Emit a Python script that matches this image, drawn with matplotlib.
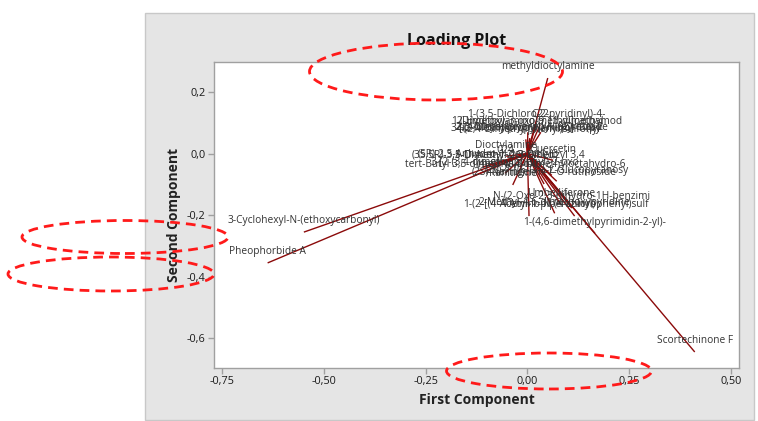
import matplotlib
matplotlib.use('Agg')
import matplotlib.pyplot as plt
from matplotlib.patches import Rectangle, Ellipse

# ---- data (loadings on first / second component) ----
names = [
    "methyldioctylamine",
    "Scortechinone F",
    "Pheophorbide A",
    "3-Cyclohexyl-N-(ethoxycarbonyl)",
    "1-(3,5-Dichloro-2-pyridinyl)-4-",
    "C22",
    "12-Hydroxy-3-oxo-9,11-dimethyl",
    "(Dimethylamino)methyl]carbamod",
    "2-(4-Methylphenyl)-N-(pyridin-2",
    "4-(2,4-Dimethylphenyl)sulfonyl",
    "2,3-Dihydroxypropyl (9Z)-octade",
    "3-[(2-Methylpropyl)amino]-1-(py",
    "Dioctylamine",
    "C24",
    "Quercetin",
    "(5R)-2,5-Anhydro-1-deoxy-1-(3",
    "(3S,5R)-3,5-Dimethyl-2,3-dihyd",
    "1-O-Acetyl-2-O-Dibenzyl 3,4",
    "tert-Butyl 3,5-dimethyl-4-oxo-",
    "3-[2-(3,4-dimethylphenyl)-2-oxo",
    "(4aS)-4a,8-Dimethyloctahydro-6",
    "(2S)-7-[(6-O-a-L-Glucopyranosy",
    "Ranitidine",
    "(2S)-Naringenin-7-O-rutinoside",
    "Umbelliferone",
    "N-(2-Oxo-2,3-dihydro-1H-benzimi",
    "2-Methyl-4,6-dimethoxypyridine",
    "1-(2-[(4-Acetyl-1-piperazinyl)",
    "4-Amino-N-(4-chlorophenyl)sulf",
    "1-(4,6-dimethylpyrimidin-2-yl)-",
]
pc1 = [0.050, 0.411, -0.638, -0.549, 0.021, 0.031, 0.001, 0.033,
       0.006, 0.001, 0.011, -0.004, -0.052, -0.055, 0.063, -0.095,
       -0.110, -0.018, -0.129, -0.055, 0.060, 0.072, -0.036, 0.041,
       0.082, 0.109, 0.067, 0.004, 0.116, 0.166]
pc2 = [0.245, -0.644, -0.355, -0.255, 0.092, 0.092, 0.069, 0.069,
       0.050, 0.042, 0.050, 0.046, -0.009, -0.025, -0.022, -0.038,
       -0.044, -0.044, -0.071, -0.064, -0.071, -0.090, -0.102, -0.099,
       -0.165, -0.177, -0.194, -0.203, -0.203, -0.259]

xticks = [-0.75, -0.50, -0.25, 0.0, 0.25, 0.50]
xticklabels = ['-0,75', '-0,50', '-0,25', '0,00', '0,25', '0,50']
yticks = [-0.6, -0.4, -0.2, 0.0, 0.2]
yticklabels = ['-0,6', '-0,4', '-0,2', '0,0', '0,2']

W, H = 758, 421
plt.rcParams['font.family'] = ['Open Sans', 'DejaVu Sans']

fig = plt.figure(figsize=(W / 100, H / 100), dpi=100)
fig.patch.set_facecolor('white')

# grey Minitab panel
fig.patches.append(Rectangle((145 / W, 1 - 420 / H), (754 - 145) / W, (420 - 13) / H,
                             transform=fig.transFigure, facecolor='#E5E5E5',
                             edgecolor='#C8C8C8', lw=1, zorder=-5))

ax = fig.add_axes([214 / W, 1 - 368 / H, (739 - 214) / W, (368 - 62) / H])
ax.set_zorder(1)
ax.set_facecolor('white')

for n, x, y in zip(names, pc1, pc2):
    ax.plot([0, x], [0, y], color='#8B0A0A', lw=1.0, solid_capstyle='butt', zorder=2)
    ax.annotate(n, (x, y), xytext=(0, 8), textcoords='offset points',
                ha='center', va='center', fontsize=7.3, color='#333333', zorder=3)

ax.set_xlim(-0.7697, 0.5197)
ax.set_ylim(-0.696, 0.297)
ax.set_xticks(xticks)
ax.set_xticklabels(xticklabels)
ax.set_yticks(yticks)
ax.set_yticklabels(yticklabels)
for s in ax.spines.values():
    s.set_color('#A0A0A0')
    s.set_linewidth(1.0)
ax.tick_params(axis='both', colors='#A0A0A0', labelcolor='#1A1A1A',
               labelsize=7.8, length=4, width=1, pad=2)

ax.set_xlabel('First Component', fontsize=10, fontweight='bold', color='#222222', labelpad=4)
ax.set_ylabel('Second Component', fontsize=10, fontweight='bold', color='#222222', labelpad=4)
fig.text(457 / W, 1 - 41 / H, 'Loading Plot', ha='center', va='center',
         fontsize=11.5, fontweight='bold', color='#111111', zorder=5)

# red dashed annotation ellipses (pixel centre x, y, width, height)
ell_cx = [436, 549, 125, 111]
ell_cy = [71.5, 371, 237, 274]
ell_w = [253, 205, 206, 206]
ell_h = [57, 36, 33, 34]
for cx, cy, w, h in zip(ell_cx, ell_cy, ell_w, ell_h):
    e = Ellipse((cx / W, 1 - cy / H), w / W, h / H, transform=fig.transFigure,
                fill=False, edgecolor='#FF1A1A', lw=2.0, linestyle=(0, (3.5, 2.2)),
                zorder=10, clip_on=False)
    fig.patches.append(e)

fig.savefig('out.png', dpi=100, facecolor=fig.get_facecolor())
